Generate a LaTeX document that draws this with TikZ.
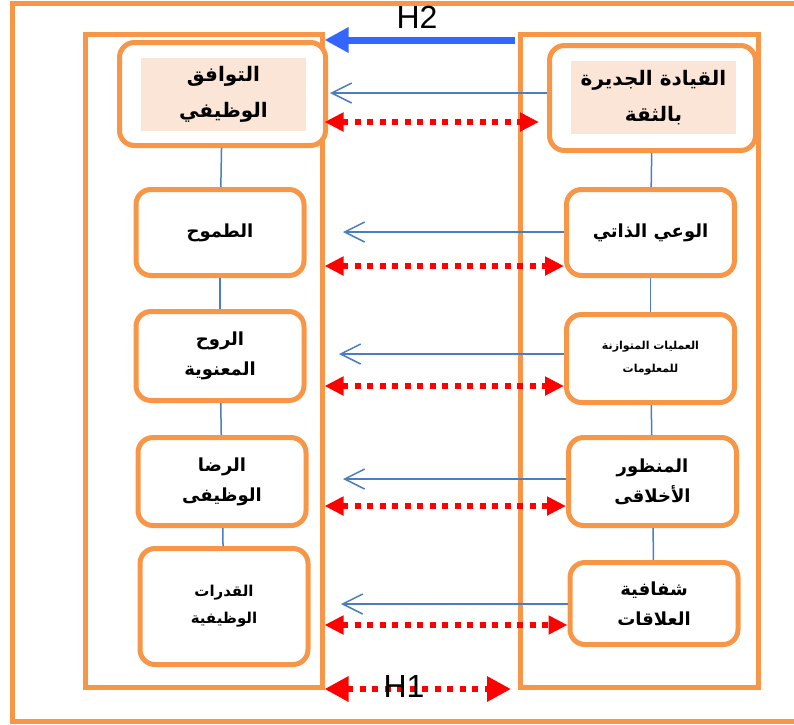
\documentclass[tikz,border=0pt]{standalone}
\usepackage{fontspec}
\setmainfont{Liberation Sans}
\newfontfamily\arabicfont[Script=Arabic]{DejaVu Sans}
\TeXXeTstate=1
\usetikzlibrary{arrows.meta}
\definecolor{boxorange}{RGB}{247,150,70}
\definecolor{peach}{RGB}{251,229,214}
\definecolor{linkblue}{RGB}{74,126,193}
\definecolor{hblue}{RGB}{51,102,255}
\newcommand{\artext}[1]{\beginR #1\endR}

\begin{document}
\begin{tikzpicture}[x=1pt,y=-1pt,
    frame/.style={draw=boxorange,line width=5pt,inner sep=0pt},
    box/.style={draw=boxorange,line width=5pt,rounded corners=15pt,fill=white,align=center,inner sep=0pt,
      minimum width=168pt,minimum height=89pt,font=\arabicfont\bfseries\fontsize{18}{30}\selectfont},
    title/.style={fill=peach,align=center,inner sep=0pt,minimum width=165pt,minimum height=73pt,
      font=\arabicfont\bfseries\fontsize{20}{36}\selectfont},
    link/.style={draw=linkblue,line width=1.5pt},
    pointer/.style={linkblue,line width=1.5pt,-{Straight Barb[length=20pt,width=20pt]}},
    match/.style={red,line width=6pt,dash pattern=on 6pt off 6.5pt,{Triangle[length=19pt,width=18pt]}-{Triangle[length=19pt,width=18pt]}},
    hlabel/.style={inner sep=0pt,font=\fontsize{32}{36}\selectfont}]
      \useasboundingbox (0,0) rectangle (794,724);
      \draw [frame] (12,3) rectangle (810,721);
      \node [frame,minimum width=237pt,minimum height=653pt] (Lcol) at (203.5,360.5) {};
      \node [frame,minimum width=238pt,minimum height=653pt] (Rcol) at (639,360.5) {};
      % left column
      \node [box,minimum width=206pt,minimum height=103pt] (L1) at (222.5,94) {};
      \node [title] (L1t) at (223.5,94.5) {\artext{التوافق}\\\artext{الوظيفي}};
      \node [box,minimum height=86pt] (L2) at (220,232.5) {\artext{الطموح}};
      \node [box] (L3) at (220,356) {\artext{الروح}\\\artext{المعنوية}};
      \node [box,minimum height=88pt] (L4) at (222,481.5) {\artext{الرضا}\\\artext{الوظيفى}};
      \node [box,minimum height=116pt,font=\arabicfont\bfseries\fontsize{15}{27}\selectfont] (L5) at (224,606.5) {\artext{القدرات}\\\artext{الوظيفية}};
      % right column
      \node [box,minimum width=206pt,minimum height=105pt] (R1) at (652.5,98) {};
      \node [title] (R1t) at (653.5,97.5) {\artext{القيادة الجديرة}\\\artext{بالثقة}};
      \node [box,minimum height=86pt] (R2) at (650.5,232.5) {\artext{الوعي الذاتي}};
      \node [box,minimum height=88pt,font=\arabicfont\bfseries\fontsize{11}{23}\selectfont] (R3) at (650.5,358.5) {\artext{العمليات المتوازنة}\\\artext{للمعلومات}};
      \node [box,minimum height=88pt] (R4) at (652.5,481.5) {\artext{المنظور}\\\artext{الأخلاقى}};
      \node [box,minimum height=82pt] (R5) at (654,603.5) {\artext{شفافية}\\\artext{العلاقات}};
      \draw [link] (L1) -- (L2);
      \draw [link] (L2) -- (L3);
      \draw [link] (L3) -- (L4);
      \draw [link] (L4) -- (L5);
      \draw [link] (R1) -- (R2);
      \draw [link] (R2) -- (R3);
      \draw [link] (R3) -- (R4);
      \draw [link] (R4) -- (R5);
      % arrow ends
      \coordinate (p1) at (330,93);
      \coordinate (p2) at (343,232);
      \coordinate (p3) at (339,354);
      \coordinate (p4) at (343,479);
      \coordinate (p5) at (341,604);
      \coordinate (m1) at (539,122);
      \coordinate (m2) at (0,266);
      \coordinate (m3) at (0,386);
      \coordinate (m4) at (0,506);
      \coordinate (m5) at (0,625);
      \coordinate (h1) at (511,689);
      \coordinate (h2) at (515,40);
      \draw [pointer] (R1.west |- p1) -- (p1);
      \draw [pointer] (R2.west |- p2) -- (p2);
      \draw [pointer] (R3.west |- p3) -- (p3);
      \draw [pointer] (R4.west |- p4) -- (p4);
      \draw [pointer] (R5.west |- p5) -- (p5);
      \draw [match] (Lcol.east |- m1) -- (m1);
      \draw [match] (Lcol.east |- m2) -- (R2.west |- m2);
      \draw [match] (Lcol.east |- m3) -- (R3.west |- m3);
      \draw [match] (Lcol.east |- m4) -- (R4.west |- m4);
      \draw [match] (Lcol.east |- m5) -- (R5.west |- m5);
      \draw [match,{Triangle[length=24pt,width=24pt]}-{Triangle[length=24pt,width=24pt]}] (Lcol.east |- h1) -- (h1);
      \draw [hblue,line width=7pt,-{Triangle[length=24pt,width=24pt]}] (h2) -- (Lcol.east |- h2);
      \node [hlabel] (H1) at (404,686) {H1};
      \node [hlabel] (H2) at (417,17) {H2};
\end{tikzpicture}
\end{document}
